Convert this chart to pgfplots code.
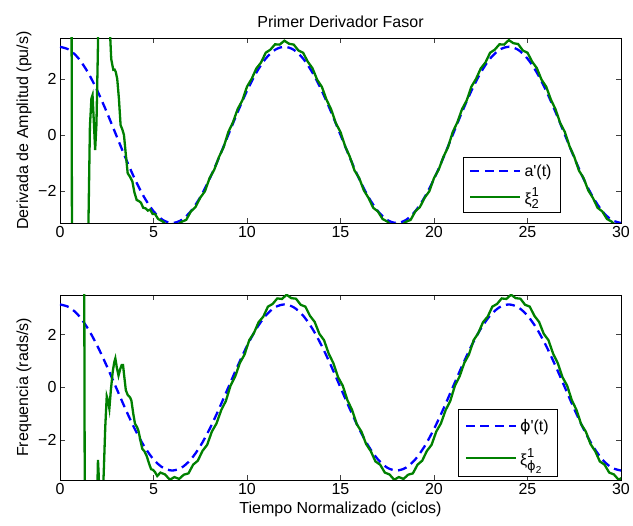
\documentclass[border=0pt]{standalone}
\usepackage{fontspec}
\setmainfont{Liberation Sans}
\newfontfamily\dejavu{DejaVu Sans}
\usepackage{amsmath}
\usepackage{pgfplots}
\usepackage{pgfplotstable}
\pgfplotsset{compat=1.18}
\definecolor{mblue}{rgb}{0,0,1}
\definecolor{mgreen}{rgb}{0,0.5,0}
\newcommand\ff{\fontsize{16}{19}\selectfont}
\newcommand\sm{\fontsize{13}{15}\selectfont}
\newcommand\smm{\fontsize{10}{12}\selectfont}

\pgfplotstableread{
t y
0 3.1416
0.5 3.0345
1 2.7207
1.5 2.2214
2 1.5708
2.5 0.8131
3 0
3.5 -0.8131
4 -1.5708
4.5 -2.2214
5 -2.7207
5.5 -3.0345
6 -3.1416
6.5 -3.0345
7 -2.7207
7.5 -2.2214
8 -1.5708
8.5 -0.8131
9 0
9.5 0.8131
10 1.5708
10.5 2.2214
11 2.7207
11.5 3.0345
12 3.1416
12.5 3.0345
13 2.7207
13.5 2.2214
14 1.5708
14.5 0.8131
15 0
15.5 -0.8131
16 -1.5708
16.5 -2.2214
17 -2.7207
17.5 -3.0345
18 -3.1416
18.5 -3.0345
19 -2.7207
19.5 -2.2214
20 -1.5708
20.5 -0.8131
21 0
21.5 0.8131
22 1.5708
22.5 2.2214
23 2.7207
23.5 3.0345
24 3.1416
24.5 3.0345
25 2.7207
25.5 2.2214
26 1.5708
26.5 0.8131
27 0
27.5 -0.8131
28 -1.5708
28.5 -2.2214
29 -2.7207
29.5 -3.0345
30 -3.1416
}\bluetab

\pgfplotstableread{
t y
0.6 12
0.66 -12
1.47 -12
1.52 -3.2
1.6 0.3
1.68 1.3
1.74 1.42
1.8 0.6
1.88 -0.54
1.95 0.4
2.02 2.8
2.1 6
2.2 12
2.55 12
2.65 4
2.74 2.7
2.85 2.32
2.92 2.33
2.98 2.25
3.06 2.0
3.15 1.3
3.24 0.35
3.33 0.2
3.42 0.0
3.52 -0.7
3.62 -1.37
3.75 -1.5
3.87 -1.66
3.98 -2.05
4.1 -2.32
4.22 -2.36
4.33 -2.42
4.45 -2.6
4.58 -2.62
4.7 -2.7
4.82 -2.66
4.95 -2.82
5.08 -2.82
5.25 -3.00
5.5 -3.09
5.75 -3.26
6.0 -3.18
6.25 -3.23
6.5 -3.10
6.75 -3.03
7.0 -2.73
7.25 -2.57
7.5 -2.24
7.75 -2.01
8.0 -1.54
8.25 -1.24
8.5 -0.79
8.75 -0.44
9.0 0.10
9.25 0.45
9.5 0.92
9.75 1.23
10.0 1.72
10.25 2.00
10.5 2.37
10.75 2.58
11.0 2.93
11.25 3.04
11.5 3.23
11.75 3.22
12.0 3.36
12.25 3.25
12.5 3.22
12.75 3.01
13.0 2.93
13.25 2.61
13.5 2.38
13.75 1.97
14.0 1.72
14.25 1.26
14.5 0.91
14.75 0.42
15.0 0.10
15.25 -0.41
15.5 -0.78
15.75 -1.27
16.0 -1.54
16.25 -1.98
16.5 -2.25
16.75 -2.60
17.0 -2.73
17.25 -3.00
17.5 -3.09
17.75 -3.26
18.0 -3.18
18.25 -3.23
18.5 -3.10
18.75 -3.03
19.0 -2.73
19.25 -2.57
19.5 -2.24
19.75 -2.01
20.0 -1.54
20.25 -1.24
20.5 -0.79
20.75 -0.44
21.0 0.10
21.25 0.45
21.5 0.92
21.75 1.23
22.0 1.72
22.25 2.00
22.5 2.37
22.75 2.58
23.0 2.93
23.25 3.04
23.5 3.23
23.75 3.22
24.0 3.38
24.25 3.27
24.5 3.24
24.75 3.01
25.0 2.93
25.25 2.61
25.5 2.38
25.75 1.97
26.0 1.72
26.25 1.26
26.5 0.91
26.75 0.42
27.0 0.10
27.25 -0.41
27.5 -0.78
27.75 -1.27
28.0 -1.54
28.25 -1.98
28.5 -2.25
28.75 -2.60
29.0 -2.73
29.25 -3.00
29.5 -3.09
29.75 -3.26
30.0 -3.18
}\greentop

\pgfplotstableread{
t y
1.26 15
1.36 -15
1.98 -15
2.01 -3.4
2.03 -2.74
2.07 -3.3
2.12 -4.5
2.27 -4.5
2.34 -3.2
2.42 -1.5
2.5 -0.33
2.57 -0.5
2.64 -0.8
2.72 -0.1
2.82 0.6
2.9 0.95
2.96 1.10
3.04 0.75
3.13 0.45
3.22 0.7
3.3 0.85
3.37 0.85
3.44 0.4
3.52 -0.1
3.62 -0.28
3.75 -0.38
3.82 -0.5
3.92 -1.0
4.01 -1.37
4.12 -1.5
4.2 -1.65
4.3 -2.0
4.4 -2.32
4.52 -2.42
4.63 -2.58
4.75 -2.85
4.87 -3.09
4.98 -3.12
5.08 -3.2
5.2 -3.35
5.37 -3.22
5.62 -3.29
5.87 -3.49
6.12 -3.39
6.37 -3.46
6.62 -3.30
6.87 -3.25
7.12 -2.92
7.37 -2.77
7.62 -2.40
7.87 -2.17
8.12 -1.67
8.37 -1.36
8.62 -0.86
8.87 -0.51
9.12 0.07
9.37 0.42
9.62 0.93
9.87 1.25
10.12 1.79
10.37 2.06
10.62 2.47
10.87 2.68
11.12 3.06
11.37 3.16
11.62 3.37
11.87 3.35
12.12 3.51
12.37 3.38
12.62 3.36
12.87 3.13
13.12 3.06
13.37 2.71
13.62 2.48
13.87 2.03
14.12 1.79
14.37 1.28
14.62 0.92
14.87 0.39
15.12 0.07
15.37 -0.48
15.62 -0.85
15.87 -1.39
16.12 -1.67
16.37 -2.14
16.62 -2.41
16.87 -2.80
17.12 -2.92
17.37 -3.22
17.62 -3.29
17.87 -3.49
18.12 -3.39
18.37 -3.46
18.62 -3.30
18.87 -3.25
19.12 -2.92
19.37 -2.77
19.62 -2.40
19.87 -2.17
20.12 -1.67
20.37 -1.36
20.62 -0.86
20.87 -0.51
21.12 0.07
21.37 0.42
21.62 0.93
21.87 1.25
22.12 1.79
22.37 2.06
22.62 2.47
22.87 2.68
23.12 3.06
23.37 3.16
23.62 3.37
23.87 3.35
24.12 3.51
24.37 3.38
24.62 3.36
24.87 3.13
25.12 3.06
25.37 2.71
25.62 2.48
25.87 2.03
26.12 1.79
26.37 1.28
26.62 0.92
26.87 0.39
27.12 0.07
27.37 -0.48
27.62 -0.85
27.87 -1.39
28.12 -1.67
28.37 -2.14
28.62 -2.41
28.87 -2.80
29.12 -2.92
29.37 -3.22
29.62 -3.29
29.87 -3.49
30.12 -3.39
}\greenbot

\pgfplotsset{
  mstyle/.style={
    scale only axis, width=561pt, height=185pt,
    xmin=0, xmax=30,
    xtick={0,5,10,15,20,25,30},
    xticklabels={0,5,10,15,20,25,30},
    ytick={-2,0,2}, yticklabels={−2,0,2},
    xtick pos=both, ytick pos=both,
    xticklabel pos=lower, yticklabel pos=left,
    tick align=inside, major tick length=5pt,
    tick style={line width=0.6pt, black!75},
    axis line style={line width=0.8pt, black},
    tick label style={font=\ff},
    label style={font=\ff},
    title style={font=\ff, yshift=1pt},
    legend style={font=\ff, draw=black, line width=0.8pt, legend cell align=left,
      inner xsep=6pt, inner ysep=5pt, row sep=6pt,
      nodes={inner xsep=3pt}},
    legend image code/.code={\draw[##1] (0pt,0pt) -- (50pt,0pt);},
    clip=true,
  },
  bl/.style={color=mblue, line width=2.3pt, dash pattern=on 9pt off 5.5pt, smooth},
  gr/.style={color=mgreen, line width=2.3pt},
}

\begin{document}
\begin{tikzpicture}
\path[use as bounding box] (0,0) rectangle (633pt,526pt);
\begin{axis}[mstyle, at={(60pt,303pt)}, anchor=south west,
  ymin=-3.1416, ymax=3.4558,
  title={Primer Derivador Fasor},
  ylabel={Derivada de Amplitud (pu/s)},
  legend style={at={(0.893,0.054)}, anchor=south east}]
\addplot[bl] table[x=t,y=y] {\bluetab};
\addlegendentry{a\textquotesingle(t)}
\addplot[gr] table[x=t,y=y] {\greentop};
\addlegendentry{$\text{ξ}^{\text{\sm 1}}_{\text{\sm 2}}$}
\end{axis}
\begin{axis}[mstyle, at={(60pt,46pt)}, anchor=south west,
  ymin=-3.5, ymax=3.5,
  xlabel={Tiempo Normalizado (ciclos)},
  ylabel={Frequencia (rads/s)},
  legend style={at={(0.888,0.016)}, anchor=south east, row sep=12pt, inner ysep=8pt}]
\addplot[bl] table[x=t,y=y] {\bluetab};
\addlegendentry{{\dejavu ϕ}\textquotesingle(t)}
\addplot[gr] table[x=t,y=y] {\greenbot};
\addlegendentry{$\text{ξ}^{\text{\sm 1}}_{\text{\sm\dejavu ϕ}_{\text{\smm 2}}}$}
\end{axis}
\end{tikzpicture}
\end{document}
